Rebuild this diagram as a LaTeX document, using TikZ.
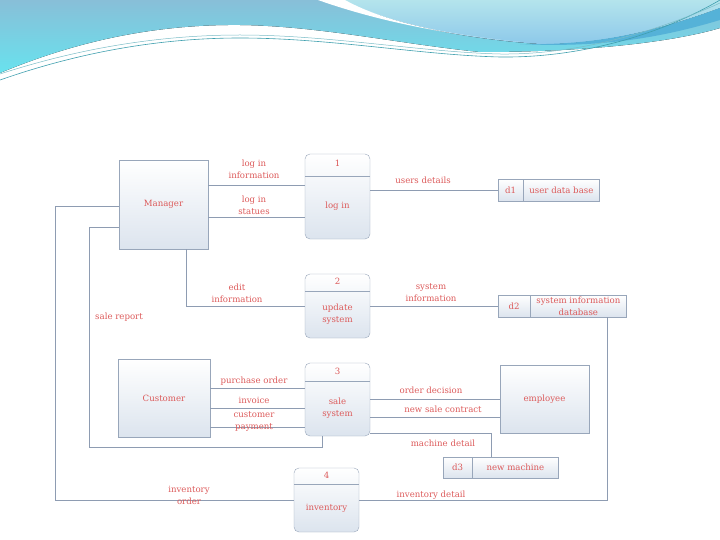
\documentclass[tikz,border=0pt]{standalone}
\usepackage{fontspec}
\setmainfont{DejaVu Serif}
\usepackage{xcolor}
\usepackage{tikz}
\usetikzlibrary{positioning}

\definecolor{dfdred}{HTML}{DC5A5A}
\definecolor{dfdline}{HTML}{8E9CB2}
\definecolor{dfdedge}{HTML}{98A6BA}
\definecolor{dfdfill}{HTML}{DCE4EE}
\definecolor{wavedark}{HTML}{88BFD8}
\definecolor{wavecyan}{HTML}{68E2EE}
\definecolor{wavelight}{HTML}{B4E4EC}
\definecolor{wavemid}{HTML}{8CC8EA}
\definecolor{waveband}{HTML}{55B2D8}
\definecolor{waveline}{HTML}{3F9FAE}

\begin{document}
\begin{tikzpicture}[
  x=1pt, y=-1pt,
  font=\fontsize{8.6}{12}\selectfont,
  every node/.style={text=dfdred, align=center},
  entity/.style={rectangle, draw=dfdedge, top color=white, bottom color=dfdfill,
                 inner sep=0pt},
  proc/.style={rectangle, draw=dfdedge, rounded corners=5pt, top color=white,
               bottom color=dfdfill, minimum width=65pt, inner sep=0pt},
  store/.style={rectangle, draw=dfdedge, top color=white, bottom color=dfdfill,
                inner sep=0pt},
  flow/.style={draw=dfdline, line width=0.8pt},
  lbl/.style={inner sep=0pt}
]
  \useasboundingbox (0,0) rectangle (720,540);

  % header waves
  \fill[top color=wavedark, bottom color=wavecyan]
    (0,0) -- (720,0) -- (720,28) .. controls (680,40) and (600,52) .. (480,52)
    .. controls (400,44) and (320,26) .. (240,25)
    .. controls (140,24) and (60,48) .. (0,73) -- cycle;
  \fill[top color=wavelight, bottom color=wavemid]
    (340,0) -- (720,0) -- (720,8) .. controls (660,30) and (600,45) .. (540,44)
    .. controls (480,40) and (400,28) .. (340,0) -- cycle;
  \fill[waveband]
    (520,44) .. controls (600,46) and (660,30) .. (720,8) -- (720,20)
    .. controls (660,38) and (600,48) .. (520,44) -- cycle;
  \fill[white]
    (318,0) .. controls (380,22) and (450,35) .. (520,42)
    .. controls (460,36) and (390,25) .. (345,0) -- cycle;
  \draw[waveline, line width=0.6pt]
    (0,80) .. controls (80,52) and (160,38) .. (240,38)
    .. controls (330,38) and (420,55) .. (500,57)
    .. controls (580,58) and (660,35) .. (720,0);
  \draw[waveline!70, line width=0.5pt]
    (0,74) .. controls (80,48) and (160,35) .. (240,35)
    .. controls (330,35) and (420,52) .. (500,54)
    .. controls (580,55) and (660,30) .. (720,3);

  % entities
  \node[entity, minimum width=89, minimum height=89] (mgr) at (163.5,204.5) {Manager};
  \node[entity, minimum width=92, minimum height=78] (cust) at (164,398) {Customer};
  \node[entity, minimum width=89, minimum height=68] (emp) at (544.5,399) {employee};

  % processes
  \node[proc, minimum height=85] (p1) at (337.5,196.5) {};
  \draw[dfdedge] ([yshift=-22]p1.north west) -- ([yshift=-22]p1.north east);
  \node (p1n) at ([yshift=-10]p1.north) {1};
  \node (p1t) at ([yshift=-9.5]p1.center) {log in};

  \node[proc, minimum height=64] (p2) at (337.5,306) {};
  \draw[dfdedge] ([yshift=-17]p2.north west) -- ([yshift=-17]p2.north east);
  \node (p2n) at ([yshift=-8]p2.north) {2};
  \node (p2t) at ([yshift=-8]p2.center) {update\\system};

  \node[proc, minimum height=73] (p3) at (337.5,399.5) {};
  \draw[dfdedge] ([yshift=-18]p3.north west) -- ([yshift=-18]p3.north east);
  \node (p3n) at ([yshift=-9]p3.north) {3};
  \node (p3t) at ([yshift=-8.5]p3.center) {sale\\system};

  \node[proc, minimum height=64] (p4) at (326.5,500) {};
  \draw[dfdedge] ([yshift=-16]p4.north west) -- ([yshift=-16]p4.north east);
  \node (p4n) at ([yshift=-8]p4.north) {4};
  \node (p4t) at ([yshift=-8]p4.center) {inventory};

  % data stores
  \node[store, minimum width=25, minimum height=22] (d1) at (510.5,190) {d1};
  \node[store, minimum width=76, minimum height=22, right=0pt of d1] (d1t) {user data base};
  \node[store, minimum width=32, minimum height=22] (d2) at (514,306) {d2};
  \node[store, minimum width=96, minimum height=22, right=0pt of d2] (d2t)
    {system information\\database};
  \node[store, minimum width=29, minimum height=21] (d3) at (457.5,467.5) {d3};
  \node[store, minimum width=86, minimum height=21, right=0pt of d3] (d3t) {new machine};

  % flows
  \coordinate (srcorner) at (89,447);
  \coordinate (iocorner) at (55,500);
  \draw[flow] ([yshift=19.5]mgr.east) -- ([yshift=19.5]mgr.east -| p1.west);
  \draw[flow] ([yshift=-12.5]mgr.east) -- ([yshift=-12.5]mgr.east -| p1.west);
  \draw[flow] (d1.west -| p1.east) -- (d1.west);
  \draw[flow] ([xshift=22.5]mgr.south) |- (p2.west);
  \draw[flow] (p2.east) -- (d2.west);
  \draw[flow] ([yshift=-1.5]mgr.west) -| (iocorner) -- (p4.west);
  \draw[flow] ([yshift=-22.5]mgr.west) -| (srcorner) -| ([xshift=-15.5]p3.south);
  \draw[flow] ([yshift=10]cust.east) -- ([yshift=10]cust.east -| p3.west);
  \draw[flow] ([yshift=-10]cust.east) -- ([yshift=-10]cust.east -| p3.west);
  \draw[flow] ([yshift=-29]cust.east) -- ([yshift=-29]cust.east -| p3.west);
  \draw[flow] (emp.west -| p3.east) -- (emp.west);
  \draw[flow] ([yshift=-18]emp.west -| p3.east) -- ([yshift=-18]emp.west);
  \draw[flow] ([yshift=-33.5]p3.east) -| ([xshift=-24]d3t.north);
  \draw[flow] (p4.east) -| ([xshift=29]d2t.south);

  % flow labels
  \node[lbl] (lloginfo) at (254,169) {log in\\information};
  \node[lbl] (llogstat) at (254,205) {log in\\statues};
  \node[lbl] (lusers) at (423,180) {users details};
  \node[lbl] (ledit) at (237,293) {edit\\information};
  \node[lbl] (lsysinfo) at (431,293) {system\\information};
  \node[lbl] (lsale) at (119,317) {sale report};
  \node[lbl] (lpurch) at (254,381) {purchase order};
  \node[lbl] (linvoice) at (254,400) {invoice};
  \node[lbl] (lpay) at (254,422) {customer\\payment};
  \node[lbl] (lorder) at (431,390) {order decision};
  \node[lbl] (lcontract) at (443,409) {new sale contract};
  \node[lbl] (lmachine) at (443,443) {machine detail};
  \node[lbl] (linvorder) at (189,495) {inventory\\order};
  \node[lbl] (linvdet) at (431,495) {inventory detail};
\end{tikzpicture}
\end{document}
